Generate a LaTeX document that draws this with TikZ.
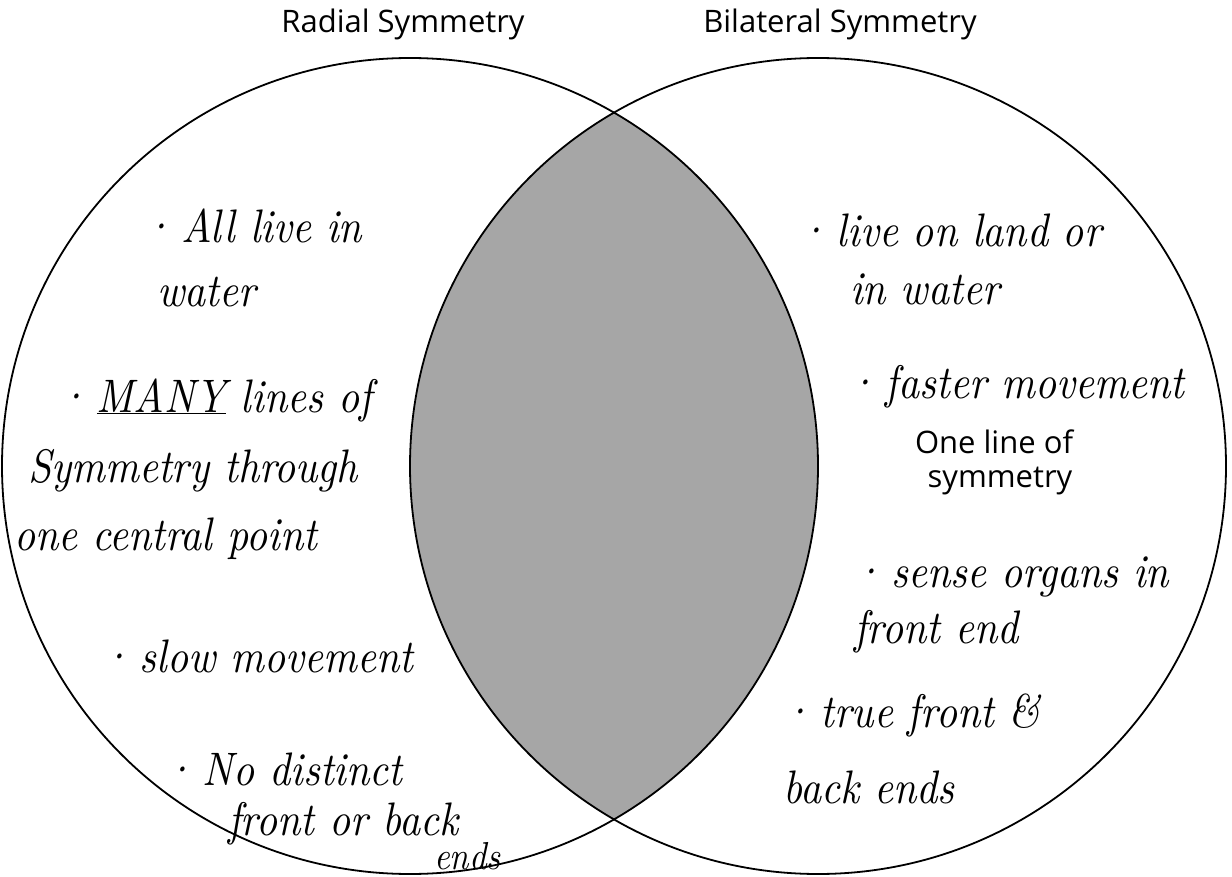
\documentclass[tikz,border=0pt]{standalone}
\usepackage{fontspec}
\usepackage{tikz}
\usetikzlibrary{positioning}
\newfontfamily\headfont{Open Sans}
\newfontfamily\handfont{lmroman10}[Extension=.otf, UprightFont=*-italic, FakeStretch=0.88]

\begin{document}
\begin{tikzpicture}[x=1pt,y=-1pt,
    title/.style={font=\headfont\fontsize{31}{34}\selectfont, inner sep=0pt, anchor=base},
    hand/.style={font=\handfont\fontsize{47}{54}\selectfont, inner sep=0pt, anchor=base west},
    ring/.style={line width=1.8pt}
]
\useasboundingbox (0,0) rectangle (1232,877);
\coordinate (cl) at (410,466);
\coordinate (cr) at (818,466);

% shaded overlap
\begin{scope}
  \clip (cl) circle[radius=408];
  \fill[black!35] (cr) circle[radius=408];
\end{scope}
\draw[ring] (cl) circle[radius=408];
\draw[ring] (cr) circle[radius=408];

\node[title] (radial)    at (403,33) {Radial Symmetry};
\node[title] (bilateral) at (840,33) {Bilateral Symmetry};

% radial side
\node[hand] (water1)  at (142,243) {·\,All live in};
\node[hand] (water2)  at (157,307) {water};
\node[hand] (many1)   at (57,412)  {·\,\underline{MANY} lines of};
\node[hand] (many2)   at (28,482)  {Symmetry through};
\node[hand] (many3)   at (14,550)  {one central point};
\node[hand] (slow)    at (100,672) {·\,slow movement};
\node[hand] (nofront) at (163,785) {·\,No distinct};
\node[hand] (noback)  at (228,835) {front or back};
\node[hand, font=\handfont\fontsize{39}{42}\selectfont] (noends) at (434,869) {ends};

% bilateral side
\node[hand] (land1)  at (797,247) {·\,live on land or};
\node[hand] (land2)  at (850,305) {in water};
\node[hand] (fast)   at (846,398) {·\,faster movement};
\node[title] (oneline) at (994,453)  {One line of};
\node[title] (symm)    at (1000,487) {symmetry};
\node[hand] (sense1) at (852,587) {·\,sense organs in};
\node[hand] (sense2) at (854,643) {front end};
\node[hand] (true1)  at (781,727) {·\,true front \&};
\node[hand] (true2)  at (783,803) {back ends};
\end{tikzpicture}
\end{document}
